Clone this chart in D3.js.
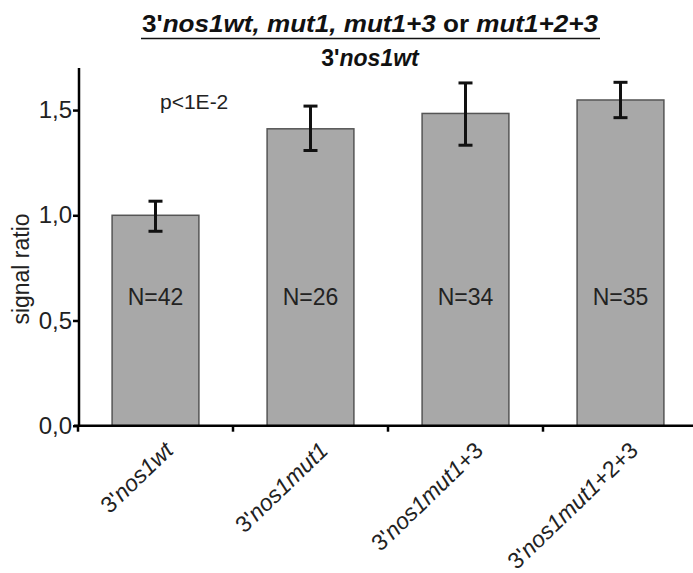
<!DOCTYPE html>
<html><head><meta charset="utf-8">
<script src="https://cdn.jsdelivr.net/npm/d3@7"></script>
<style>body{margin:0;background:#fff}svg{display:block}</style>
</head><body>
<script>
const categories = ["wt", "mut1", "mut1+3", "mut1+2+3"];
const values = [1.0, 1.411, 1.484, 1.548];
const errLow = [0.924, 1.308, 1.333, 1.464];
const errHigh = [1.067, 1.519, 1.629, 1.632];
const nLabels = ["N=42", "N=26", "N=34", "N=35"];
const yTicks = [0, 0.5, 1.0, 1.5];

const W = 693, H = 573;
const svg = d3.select("body").append("svg").attr("width", W).attr("height", H);
const font = "Arial, 'Liberation Sans', sans-serif";

const x = d3.scaleBand().domain(categories).range([78, 698]).padding(0);
const y = d3.scaleLinear().domain([0, 1.7]).range([425.7, 68]);
const barW = x.bandwidth() * 0.56;

// bars
svg.selectAll("rect.bar").data(categories).join("rect")
  .attr("x", d => x(d) + (x.bandwidth() - barW) / 2)
  .attr("y", (d, i) => y(values[i]))
  .attr("width", barW)
  .attr("height", (d, i) => y(0) - y(values[i]))
  .attr("fill", "#a8a8a8").attr("stroke", "#555").attr("stroke-width", 1.5);

// error bars
const cx = d => x(d) + x.bandwidth() / 2;
const eb = svg.append("g").attr("stroke", "#111").attr("stroke-width", 3).attr("fill", "none");
categories.forEach((d, i) => {
  eb.append("line").attr("x1", cx(d)).attr("x2", cx(d)).attr("y1", y(errLow[i])).attr("y2", y(errHigh[i]));
  eb.append("line").attr("x1", cx(d) - 7).attr("x2", cx(d) + 7).attr("y1", y(errLow[i])).attr("y2", y(errLow[i]));
  eb.append("line").attr("x1", cx(d) - 7).attr("x2", cx(d) + 7).attr("y1", y(errHigh[i])).attr("y2", y(errHigh[i]));
});

// N labels
svg.selectAll("text.n").data(categories).join("text")
  .attr("x", d => cx(d)).attr("y", 305)
  .attr("text-anchor", "middle").attr("font-family", font).attr("font-size", 23).attr("fill", "#222")
  .text((d, i) => nLabels[i]);

// y axis
const yAxis = svg.append("g").attr("transform", "translate(79,0)")
  .call(d3.axisLeft(y).tickValues(yTicks).tickSize(6).tickFormat(d => d3.format(".1f")(d).replace(".", ",")));
yAxis.select(".domain").attr("stroke", "#000").attr("stroke-width", 2.5).attr("d", `M0,${y(1.7)}V${y(0)+1}`);
yAxis.selectAll(".tick line").attr("stroke", "#000").attr("stroke-width", 2.5);
yAxis.selectAll(".tick text").attr("font-family", font).attr("font-size", 24).attr("fill", "#222").attr("x", -7);

// x axis
const xAxis = svg.append("g").attr("transform", `translate(0,${y(0)})`)
  .call(d3.axisBottom(x).tickSize(0).tickFormat(""));
xAxis.select(".domain").attr("stroke", "#000").attr("stroke-width", 2.5).attr("d", `M74,0H693`);
xAxis.selectAll(".tick").remove();
const bounds = categories.map(d => x(d)).slice(1).concat([78]);
xAxis.selectAll("line.xt").data(bounds).join("line")
  .attr("x1", d => d).attr("x2", d => d).attr("y1", 0).attr("y2", 6)
  .attr("stroke", "#000").attr("stroke-width", 2.5);

// x labels
const xl = svg.selectAll("text.xl").data(categories).join("text")
  .attr("text-anchor", "end")
  .attr("transform", d => `translate(${cx(d) + 19},${452}) rotate(-44)`)
  .attr("font-family", font).attr("font-size", 23).attr("fill", "#222");
xl.append("tspan").text("3'");
xl.append("tspan").attr("font-style", "italic").text(d => d === "wt" ? "nos1wt" : "nos1mut1");
xl.append("tspan").text(d => d === "wt" || d === "mut1" ? "" : d.replace("mut1", ""));

// y label
svg.append("text").attr("transform", "translate(29,269) rotate(-90)")
  .attr("text-anchor", "middle").attr("font-family", font).attr("font-size", 23).attr("fill", "#222")
  .text("signal ratio");

// p value
svg.append("text").attr("x", 160).attr("y", 109).attr("font-family", font).attr("font-size", 21).attr("fill", "#222")
  .text("p<1E-2");

// title
const t1 = svg.append("text").attr("x", 370).attr("y", 32).attr("text-anchor", "middle")
  .attr("textLength", 456).attr("lengthAdjust", "spacingAndGlyphs")
  .attr("font-family", font).attr("font-weight", "bold").attr("font-size", 24).attr("fill", "#111");
t1.append("tspan").text("3'");
t1.append("tspan").attr("font-style", "italic").text("nos1wt, mut1, mut1+3");
t1.append("tspan").text(" or ");
t1.append("tspan").attr("font-style", "italic").text("mut1+2+3");
svg.append("line").attr("x1", 141).attr("x2", 600).attr("y1", 38.5).attr("y2", 38.5)
  .attr("stroke", "#111").attr("stroke-width", 1.5);
const t2 = svg.append("text").attr("x", 370).attr("y", 66).attr("text-anchor", "middle")
  .attr("font-family", font).attr("font-weight", "bold").attr("font-size", 23).attr("fill", "#111");
t2.append("tspan").text("3'");
t2.append("tspan").attr("font-style", "italic").text("nos1wt");
</script>
</body></html>
